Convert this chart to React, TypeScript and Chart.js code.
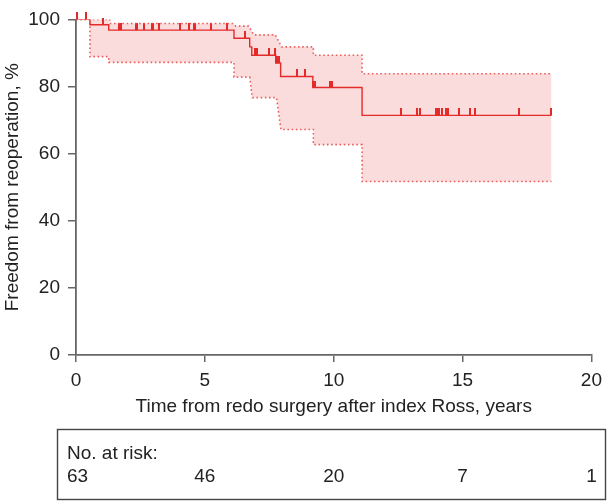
import React, { useEffect, useRef } from "react";
import { Chart, registerables } from "chart.js";

Chart.register(...registerables);

// Kaplan-Meier estimate (event times, survival %)
const kmTimes = [0, 0.54, 1.27, 6.13, 6.74, 6.82, 7.75, 7.94, 9.19, 11.1, 18.45];
const kmSurv = [100, 98.4, 96.8, 94.4, 91.8, 89.3, 87.0, 83.0, 79.7, 71.4, 71.4];

// Upper confidence limit
const upperTimes = [0, 1.31, 1.31, 6.1, 6.2, 6.7, 6.9, 7.73, 7.98, 9.21, 9.21, 11.1, 11.1, 18.45];
const upperVals = [100, 100, 98.8, 98.8, 98.0, 98.0, 95.4, 95.4, 91.8, 91.8, 89.3, 89.3, 83.8, 83.8];

// Lower confidence limit
const lowerTimes = [0, 0.54, 0.54, 1.27, 1.27, 6.13, 6.13, 6.74, 6.84, 7.78, 7.95, 9.21, 9.21, 11.1, 11.1, 18.45];
const lowerVals = [100, 100, 88.9, 88.9, 87.2, 87.2, 82.8, 82.8, 76.7, 76.7, 67.2, 67.2, 62.7, 62.7, 51.7, 51.7];

// Censored observations (years)
const censorTimes = [
  0.05, 0.39, 1.04, 1.67, 1.73, 2.31, 2.38, 2.62, 2.93, 2.98, 3.21, 4.03, 4.37, 4.56, 4.62, 5.23, 5.87,
  6.54, 6.96, 7.03, 7.48, 7.71, 7.78, 7.86, 8.57, 8.89, 9.21, 9.28, 9.85, 9.92,
  12.61, 13.22, 13.34, 13.96, 14.03, 14.09, 14.19, 14.37, 14.44, 14.86, 15.27, 15.5, 17.18, 18.43,
];

const atRiskTimes = [0, 5, 10, 15, 20];
const atRiskCounts = [63, 46, 20, 7, 1];

const xTitle = "Time from redo surgery after index Ross, years";
const yTitle = "Freedom from reoperation, %";
const atRiskLabel = "No. at risk:";

const FONT = "'Liberation Sans', Arial, Helvetica, sans-serif";
const FS = 19;
const RED = "rgb(228, 38, 38)";

function survAt(t: number): number {
  let v = kmSurv[0];
  for (let i = 0; i < kmTimes.length; i++) {
    if (kmTimes[i] <= t) v = kmSurv[i];
  }
  return v;
}

function pts(xs: number[], ys: number[]) {
  return xs.map((x, i) => ({ x, y: ys[i] }));
}

export default function App() {
  const ref = useRef<HTMLCanvasElement | null>(null);

  useEffect(() => {
    if (!ref.current) return;

    const tick = document.createElement("canvas");
    tick.width = 2;
    tick.height = 14;
    const tctx = tick.getContext("2d")!;
    tctx.fillStyle = RED;
    tctx.fillRect(0, 0, 2, 7);

    const atRiskPlugin = {
      id: "atRisk",
      afterDraw(chart: any) {
        const ctx = chart.ctx;
        const xs = chart.scales.x;
        ctx.save();
        ctx.strokeStyle = "#444";
        ctx.lineWidth = 1.4;
        ctx.strokeRect(57.5, 429.5, 548, 70);
        ctx.fillStyle = "#222";
        ctx.font = `${FS}px ${FONT}`;
        ctx.textBaseline = "alphabetic";
        ctx.textAlign = "left";
        ctx.fillText(atRiskLabel, 67, 459);
        atRiskTimes.forEach((t, i) => {
          const px = xs.getPixelForValue(t);
          const label = String(atRiskCounts[i]);
          if (i === 0) {
            ctx.textAlign = "left";
            ctx.fillText(label, 67, 482);
          } else {
            ctx.textAlign = "center";
            ctx.fillText(label, px, 482);
          }
        });
        ctx.restore();
      },
    };

    const chart = new Chart(ref.current, {
      type: "scatter",
      data: {
        datasets: [
          {
            data: pts(upperTimes, upperVals),
            showLine: true,
            borderColor: "rgba(236, 80, 80, 0.9)",
            borderWidth: 1.6,
            borderDash: [1.6, 2.6],
            pointRadius: 0,
            fill: "+1",
            backgroundColor: "rgba(235, 60, 60, 0.18)",
          },
          {
            data: pts(lowerTimes, lowerVals),
            showLine: true,
            borderColor: "rgba(236, 80, 80, 0.9)",
            borderWidth: 1.6,
            borderDash: [1.6, 2.6],
            pointRadius: 0,
            fill: false,
          },
          {
            data: pts(kmTimes, kmSurv),
            showLine: true,
            stepped: true,
            borderColor: RED,
            borderWidth: 1.4,
            pointRadius: 0,
            fill: false,
          },
          {
            data: censorTimes.map((t) => ({ x: t, y: survAt(t) })),
            showLine: false,
            pointStyle: tick as any,
            pointRadius: 4,
            clip: false as any,
          },
        ],
      },
      options: {
        responsive: false,
        animation: false,
        devicePixelRatio: 1,
        layout: { padding: { left: 0, right: 14, top: 11, bottom: 81 } },
        plugins: { legend: { display: false }, tooltip: { enabled: false } },
        scales: {
          x: {
            type: "linear",
            min: 0,
            max: 20,
            ticks: { stepSize: 5, padding: 7, color: "#222", font: { family: FONT, size: FS } },
            grid: { display: true, drawOnChartArea: false, drawTicks: true, tickLength: 7, color: "#666", lineWidth: 1.5 },
            border: { display: true, color: "#666", width: 1.8 },
            title: { display: true, text: xTitle, color: "#222", font: { family: FONT, size: FS }, padding: { top: 0, bottom: 3 } },
            afterFit: (s: any) => {
              s.height = 66;
            },
          },
          y: {
            type: "linear",
            min: 0,
            max: 100,
            ticks: { stepSize: 20, padding: 8, color: "#222", font: { family: FONT, size: FS } },
            grid: { display: true, drawOnChartArea: false, drawTicks: true, tickLength: 8, color: "#666", lineWidth: 1.5 },
            border: { display: true, color: "#666", width: 1.8 },
            title: { display: true, text: yTitle, color: "#222", font: { family: FONT, size: FS }, padding: { top: 1, bottom: 0 } },
            afterFit: (s: any) => {
              s.width = 76;
            },
          },
        },
      },
      plugins: [atRiskPlugin],
    });

    return () => chart.destroy();
  }, []);

  return (
    <div style={{ position: "absolute", left: 0, top: 0, width: 609, height: 502, background: "#fff" }}>
      <canvas ref={ref} width={609} height={502} style={{ width: 609, height: 502, display: "block" }} />
    </div>
  );
}
